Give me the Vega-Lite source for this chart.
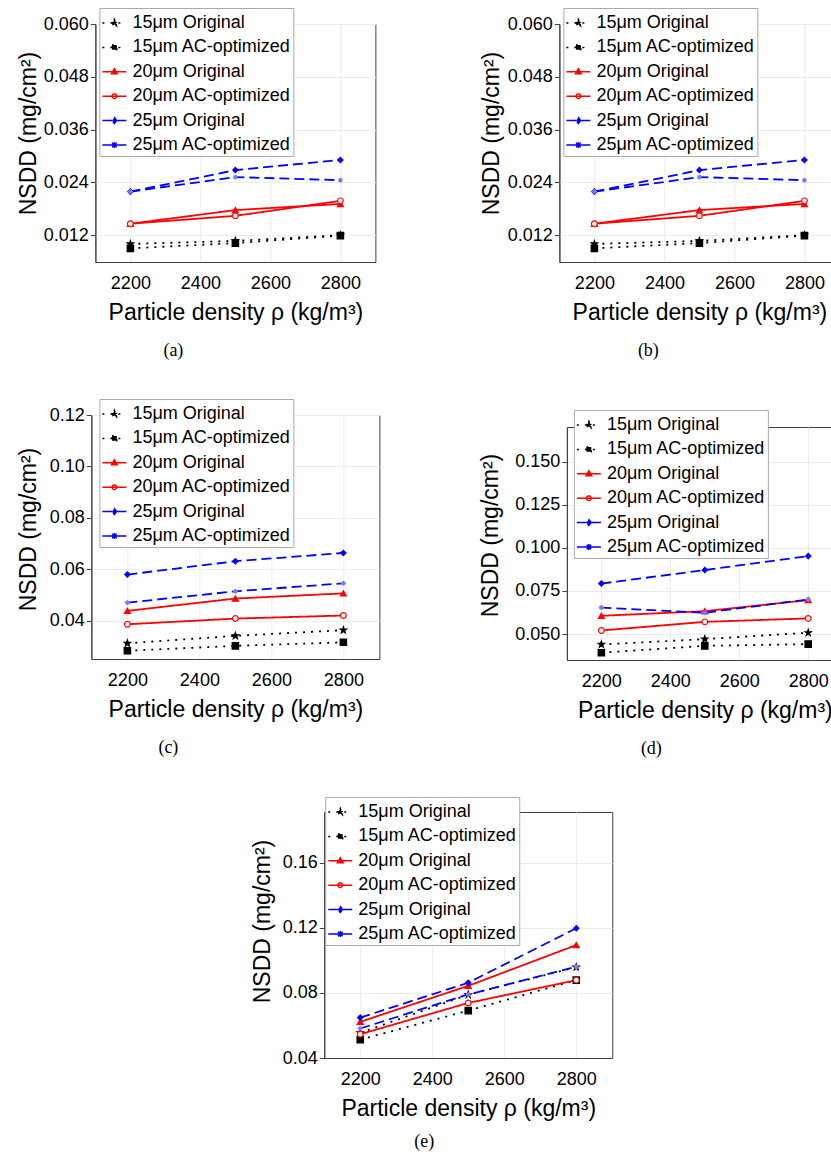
{
  "$schema": "https://vega.github.io/schema/vega-lite/v6.json",
  "background": "white",
  "padding": {"left": 16, "top": 7, "right": 0, "bottom": 0},
  "data": {"values": [
    {"panel": "a", "series": "15μm Original", "rho": 2200, "nsdd": 0.0100},
    {"panel": "a", "series": "15μm Original", "rho": 2500, "nsdd": 0.0107},
    {"panel": "a", "series": "15μm Original", "rho": 2800, "nsdd": 0.0120},
    {"panel": "a", "series": "15μm AC-optimized", "rho": 2200, "nsdd": 0.0090},
    {"panel": "a", "series": "15μm AC-optimized", "rho": 2500, "nsdd": 0.0102},
    {"panel": "a", "series": "15μm AC-optimized", "rho": 2800, "nsdd": 0.0119},
    {"panel": "a", "series": "20μm Original", "rho": 2200, "nsdd": 0.0146},
    {"panel": "a", "series": "20μm Original", "rho": 2500, "nsdd": 0.0177},
    {"panel": "a", "series": "20μm Original", "rho": 2800, "nsdd": 0.0191},
    {"panel": "a", "series": "20μm AC-optimized", "rho": 2200, "nsdd": 0.0146},
    {"panel": "a", "series": "20μm AC-optimized", "rho": 2500, "nsdd": 0.0164},
    {"panel": "a", "series": "20μm AC-optimized", "rho": 2800, "nsdd": 0.0198},
    {"panel": "a", "series": "25μm Original", "rho": 2200, "nsdd": 0.0219},
    {"panel": "a", "series": "25μm Original", "rho": 2500, "nsdd": 0.0268},
    {"panel": "a", "series": "25μm Original", "rho": 2800, "nsdd": 0.0291},
    {"panel": "a", "series": "25μm AC-optimized", "rho": 2200, "nsdd": 0.0219},
    {"panel": "a", "series": "25μm AC-optimized", "rho": 2500, "nsdd": 0.0252},
    {"panel": "a", "series": "25μm AC-optimized", "rho": 2800, "nsdd": 0.0245},
    {"panel": "b", "series": "15μm Original", "rho": 2200, "nsdd": 0.0100},
    {"panel": "b", "series": "15μm Original", "rho": 2500, "nsdd": 0.0107},
    {"panel": "b", "series": "15μm Original", "rho": 2800, "nsdd": 0.0120},
    {"panel": "b", "series": "15μm AC-optimized", "rho": 2200, "nsdd": 0.0090},
    {"panel": "b", "series": "15μm AC-optimized", "rho": 2500, "nsdd": 0.0102},
    {"panel": "b", "series": "15μm AC-optimized", "rho": 2800, "nsdd": 0.0119},
    {"panel": "b", "series": "20μm Original", "rho": 2200, "nsdd": 0.0146},
    {"panel": "b", "series": "20μm Original", "rho": 2500, "nsdd": 0.0177},
    {"panel": "b", "series": "20μm Original", "rho": 2800, "nsdd": 0.0191},
    {"panel": "b", "series": "20μm AC-optimized", "rho": 2200, "nsdd": 0.0146},
    {"panel": "b", "series": "20μm AC-optimized", "rho": 2500, "nsdd": 0.0164},
    {"panel": "b", "series": "20μm AC-optimized", "rho": 2800, "nsdd": 0.0198},
    {"panel": "b", "series": "25μm Original", "rho": 2200, "nsdd": 0.0219},
    {"panel": "b", "series": "25μm Original", "rho": 2500, "nsdd": 0.0268},
    {"panel": "b", "series": "25μm Original", "rho": 2800, "nsdd": 0.0291},
    {"panel": "b", "series": "25μm AC-optimized", "rho": 2200, "nsdd": 0.0219},
    {"panel": "b", "series": "25μm AC-optimized", "rho": 2500, "nsdd": 0.0252},
    {"panel": "b", "series": "25μm AC-optimized", "rho": 2800, "nsdd": 0.0245},
    {"panel": "c", "series": "15μm Original", "rho": 2200, "nsdd": 0.0313},
    {"panel": "c", "series": "15μm Original", "rho": 2500, "nsdd": 0.0342},
    {"panel": "c", "series": "15μm Original", "rho": 2800, "nsdd": 0.0364},
    {"panel": "c", "series": "15μm AC-optimized", "rho": 2200, "nsdd": 0.0284},
    {"panel": "c", "series": "15μm AC-optimized", "rho": 2500, "nsdd": 0.0303},
    {"panel": "c", "series": "15μm AC-optimized", "rho": 2800, "nsdd": 0.0317},
    {"panel": "c", "series": "20μm Original", "rho": 2200, "nsdd": 0.0439},
    {"panel": "c", "series": "20μm Original", "rho": 2500, "nsdd": 0.0487},
    {"panel": "c", "series": "20μm Original", "rho": 2800, "nsdd": 0.0507},
    {"panel": "c", "series": "20μm AC-optimized", "rho": 2200, "nsdd": 0.0387},
    {"panel": "c", "series": "20μm AC-optimized", "rho": 2500, "nsdd": 0.0409},
    {"panel": "c", "series": "20μm AC-optimized", "rho": 2800, "nsdd": 0.0421},
    {"panel": "c", "series": "25μm Original", "rho": 2200, "nsdd": 0.0580},
    {"panel": "c", "series": "25μm Original", "rho": 2500, "nsdd": 0.0632},
    {"panel": "c", "series": "25μm Original", "rho": 2800, "nsdd": 0.0664},
    {"panel": "c", "series": "25μm AC-optimized", "rho": 2200, "nsdd": 0.0471},
    {"panel": "c", "series": "25μm AC-optimized", "rho": 2500, "nsdd": 0.0515},
    {"panel": "c", "series": "25μm AC-optimized", "rho": 2800, "nsdd": 0.0546},
    {"panel": "d", "series": "15μm Original", "rho": 2200, "nsdd": 0.0440},
    {"panel": "d", "series": "15μm Original", "rho": 2500, "nsdd": 0.0471},
    {"panel": "d", "series": "15μm Original", "rho": 2800, "nsdd": 0.0508},
    {"panel": "d", "series": "15μm AC-optimized", "rho": 2200, "nsdd": 0.0392},
    {"panel": "d", "series": "15μm AC-optimized", "rho": 2500, "nsdd": 0.0432},
    {"panel": "d", "series": "15μm AC-optimized", "rho": 2800, "nsdd": 0.0442},
    {"panel": "d", "series": "20μm Original", "rho": 2200, "nsdd": 0.0606},
    {"panel": "d", "series": "20μm Original", "rho": 2500, "nsdd": 0.0633},
    {"panel": "d", "series": "20μm Original", "rho": 2800, "nsdd": 0.0697},
    {"panel": "d", "series": "20μm AC-optimized", "rho": 2200, "nsdd": 0.0521},
    {"panel": "d", "series": "20μm AC-optimized", "rho": 2500, "nsdd": 0.0571},
    {"panel": "d", "series": "20μm AC-optimized", "rho": 2800, "nsdd": 0.0591},
    {"panel": "d", "series": "25μm Original", "rho": 2200, "nsdd": 0.0793},
    {"panel": "d", "series": "25μm Original", "rho": 2500, "nsdd": 0.0871},
    {"panel": "d", "series": "25μm Original", "rho": 2800, "nsdd": 0.0952},
    {"panel": "d", "series": "25μm AC-optimized", "rho": 2200, "nsdd": 0.0654},
    {"panel": "d", "series": "25μm AC-optimized", "rho": 2500, "nsdd": 0.0624},
    {"panel": "d", "series": "25μm AC-optimized", "rho": 2800, "nsdd": 0.0701},
    {"panel": "e", "series": "15μm Original", "rho": 2200, "nsdd": 0.0555},
    {"panel": "e", "series": "15μm Original", "rho": 2500, "nsdd": 0.0788},
    {"panel": "e", "series": "15μm Original", "rho": 2800, "nsdd": 0.0958},
    {"panel": "e", "series": "15μm AC-optimized", "rho": 2200, "nsdd": 0.0513},
    {"panel": "e", "series": "15μm AC-optimized", "rho": 2500, "nsdd": 0.0691},
    {"panel": "e", "series": "15μm AC-optimized", "rho": 2800, "nsdd": 0.0878},
    {"panel": "e", "series": "20μm Original", "rho": 2200, "nsdd": 0.0622},
    {"panel": "e", "series": "20μm Original", "rho": 2500, "nsdd": 0.0843},
    {"panel": "e", "series": "20μm Original", "rho": 2800, "nsdd": 0.1093},
    {"panel": "e", "series": "20μm AC-optimized", "rho": 2200, "nsdd": 0.0546},
    {"panel": "e", "series": "20μm AC-optimized", "rho": 2500, "nsdd": 0.0738},
    {"panel": "e", "series": "20μm AC-optimized", "rho": 2800, "nsdd": 0.0878},
    {"panel": "e", "series": "25μm Original", "rho": 2200, "nsdd": 0.0648},
    {"panel": "e", "series": "25μm Original", "rho": 2500, "nsdd": 0.0862},
    {"panel": "e", "series": "25μm Original", "rho": 2800, "nsdd": 0.1196},
    {"panel": "e", "series": "25μm AC-optimized", "rho": 2200, "nsdd": 0.0581},
    {"panel": "e", "series": "25μm AC-optimized", "rho": 2500, "nsdd": 0.0790},
    {"panel": "e", "series": "25μm AC-optimized", "rho": 2800, "nsdd": 0.0960}
  ]},
  "config": {
    "font": "Liberation Sans",
    "view": {"stroke": "#404040", "strokeWidth": 1},
    "axis": {"labelFont": "Liberation Sans", "labelFontSize": 18, "labelColor": "#000000", "titleFont": "Liberation Sans", "titleFontSize": 23, "titleFontWeight": "normal", "titleColor": "#000000", "gridColor": "#ececec", "gridWidth": 1, "domainColor": "#404040", "tickColor": "#404040"},
    "axisX": {"ticks": false, "labelPadding": 12, "titlePadding": 9},
    "axisY": {"tickSize": 5, "labelPadding": 2, "titlePadding": 6},
    "legend": {"labelFont": "Liberation Sans", "labelFontSize": 18, "labelColor": "#000000", "labelLimit": 300, "labelOffset": 5, "padding": 2, "strokeColor": "#aaaaaa", "fillColor": "white", "symbolSize": 576, "rowPadding": 2.4, "symbolStrokeWidth": 1.5, "symbolOpacity": 1},
    "title": {"font": "Liberation Serif", "fontSize": 18, "fontWeight": "normal", "color": "#000000", "orient": "bottom", "anchor": "middle", "frame": "group", "offset": 18}
  },
  "resolve": {"scale": {"x": "independent", "y": "independent"}, "axis": {"x": "independent", "y": "independent"}},
  "spacing": 37,
  "center": true,
  "vconcat": [
    {
      "spacing": 99,
      "resolve": {"scale": {"x": "independent", "y": "independent"}, "axis": {"x": "independent", "y": "independent"}},
      "hconcat": [
        {
          "spacing": 37,
          "center": true,
          "resolve": {"scale": {"x": "independent", "y": "independent"}, "axis": {"x": "independent", "y": "independent"}},
          "vconcat": [
            {
              "width": 280, "height": 238,
              "transform": [{"filter": "datum.panel === 'a'"}],
              "title": {"text": "(a)", "dx": -62},
              "encoding": {
                "x": {"field": "rho", "type": "quantitative", "scale": {"domain": [2100, 2900], "nice": false, "zero": false}, "axis": {"values": [2200, 2400, 2600, 2800], "format": "d", "title": "Particle density ρ (kg/m³)"}},
                "y": {"field": "nsdd", "type": "quantitative", "scale": {"domain": [0.0059, 0.06], "nice": false, "zero": false}, "axis": {"values": [0.012, 0.024, 0.036, 0.048, 0.06], "format": ".3f", "title": "NSDD (mg/cm²)", "titlePadding": 3, "titleY": 109}}
              },
              "resolve": {"scale": {"shape": "independent", "fill": "independent", "stroke": "independent", "strokeDash": "independent", "color": "independent", "size": "independent"}},
              "layer": [
                {"mark": {"type": "line", "strokeWidth": 1.8},
                 "encoding": {
                   "color": {"field": "series", "type": "nominal", "scale": {"domain": ["15μm Original", "15μm AC-optimized", "20μm Original", "20μm AC-optimized", "25μm Original", "25μm AC-optimized"], "range": ["black", "black", "red", "red", "blue", "blue"]}, "legend": null},
                   "strokeDash": {"field": "series", "type": "nominal", "scale": {"domain": ["15μm Original", "15μm AC-optimized", "20μm Original", "20μm AC-optimized", "25μm Original", "25μm AC-optimized"], "range": [[2, 6], [2, 6], [1, 0], [1, 0], [10, 5], [10, 5]]}, "legend": null}
                 }},
                {"mark": {"type": "point", "filled": true, "opacity": 1, "strokeWidth": 1.2},
                 "encoding": {
                   "shape": {"field": "series", "type": "nominal", "scale": {"domain": ["15μm Original", "15μm AC-optimized", "20μm Original", "20μm AC-optimized", "25μm Original", "25μm AC-optimized"], "range": ["M0,-1L0.235,-0.324L0.951,-0.309L0.38,0.124L0.588,0.809L0,0.4L-0.588,0.809L-0.38,0.124L-0.951,-0.309L-0.235,-0.324Z", "square", "triangle-up", "circle", "diamond", "M-1,0H1M0,-1V1M-0.7,-0.7L0.7,0.7M-0.7,0.7L0.7,-0.7"]}, "legend": null},
                   "fill": {"field": "series", "type": "nominal", "scale": {"domain": ["15μm Original", "15μm AC-optimized", "20μm Original", "20μm AC-optimized", "25μm Original", "25μm AC-optimized"], "range": ["black", "black", "red", "white", "blue", "transparent"]}, "legend": null},
                   "stroke": {"field": "series", "type": "nominal", "scale": {"domain": ["15μm Original", "15μm AC-optimized", "20μm Original", "20μm AC-optimized", "25μm Original", "25μm AC-optimized"], "range": ["black", "black", "red", "red", "blue", "#7a7aff"]}, "legend": null},
                   "size": {"field": "series", "type": "nominal", "scale": {"domain": ["15μm Original", "15μm AC-optimized", "20μm Original", "20μm AC-optimized", "25μm Original", "25μm AC-optimized"], "range": [45, 25, 36, 28, 36, 45]}, "legend": null}
                 }},
                {"mark": {"type": "point", "filled": true, "opacity": 0},
                 "encoding": {
                   "shape": {"field": "series", "type": "nominal", "scale": {"domain": ["15μm Original", "15μm AC-optimized", "20μm Original", "20μm AC-optimized", "25μm Original", "25μm AC-optimized"], "range": ["M-1,0H1M0,-0.29L0.071,-0.097L0.276,-0.09L0.114,0.037L0.171,0.235L0,0.12L-0.171,0.235L-0.114,0.037L-0.276,-0.09L-0.071,-0.097Z", "M-1,0H1M-0.2,-0.2H0.2V0.2H-0.2Z", "M-1,0H1M0,-0.25L0.24,0.17L-0.24,0.17Z", "M-1,0H1M-0.19,0A0.19,0.19,0,1,1,0.19,0A0.19,0.19,0,1,1,-0.19,0Z", "M-1,0H1M0,-0.25L0.19,0L0,0.25L-0.19,0Z", "M-1,0H1M-0.26,0H0.26M0,-0.26V0.26M-0.19,-0.19L0.19,0.19M-0.19,0.19L0.19,-0.19"]}, "legend": {"title": null, "orient": "none", "direction": "vertical", "legendX": 4, "legendY": -16, "symbolOpacity": 1}},
                   "fill": {"field": "series", "type": "nominal", "scale": {"domain": ["15μm Original", "15μm AC-optimized", "20μm Original", "20μm AC-optimized", "25μm Original", "25μm AC-optimized"], "range": ["black", "black", "red", "white", "blue", "transparent"]}, "legend": {"title": null, "orient": "none", "direction": "vertical", "legendX": 4, "legendY": -16, "symbolOpacity": 1}},
                   "stroke": {"field": "series", "type": "nominal", "scale": {"domain": ["15μm Original", "15μm AC-optimized", "20μm Original", "20μm AC-optimized", "25μm Original", "25μm AC-optimized"], "range": ["black", "black", "red", "red", "blue", "blue"]}, "legend": {"title": null, "orient": "none", "direction": "vertical", "legendX": 4, "legendY": -16, "symbolOpacity": 1}},
                   "strokeDash": {"field": "series", "type": "nominal", "scale": {"domain": ["15μm Original", "15μm AC-optimized", "20μm Original", "20μm AC-optimized", "25μm Original", "25μm AC-optimized"], "range": [[2, 6], [2, 6], [1, 0], [1, 0], [10, 5], [10, 5]]}, "legend": {"title": null, "orient": "none", "direction": "vertical", "legendX": 4, "legendY": -16, "symbolOpacity": 1}}
                 }}
              ]
            },
            {
              "width": 288, "height": 244,
              "transform": [{"filter": "datum.panel === 'c'"}],
              "title": {"text": "(c)", "dx": -67},
              "encoding": {
                "x": {"field": "rho", "type": "quantitative", "scale": {"domain": [2100, 2900], "nice": false, "zero": false}, "axis": {"values": [2200, 2400, 2600, 2800], "format": "d", "title": "Particle density ρ (kg/m³)"}},
                "y": {"field": "nsdd", "type": "quantitative", "scale": {"domain": [0.0252, 0.12], "nice": false, "zero": false}, "axis": {"values": [0.04, 0.06, 0.08, 0.1, 0.12], "format": ".2f", "title": "NSDD (mg/cm²)", "titlePadding": 9, "titleY": 114}}
              },
              "resolve": {"scale": {"shape": "independent", "fill": "independent", "stroke": "independent", "strokeDash": "independent", "color": "independent", "size": "independent"}},
              "layer": [
                {"mark": {"type": "line", "strokeWidth": 1.8},
                 "encoding": {
                   "color": {"field": "series", "type": "nominal", "scale": {"domain": ["15μm Original", "15μm AC-optimized", "20μm Original", "20μm AC-optimized", "25μm Original", "25μm AC-optimized"], "range": ["black", "black", "red", "red", "blue", "blue"]}, "legend": null},
                   "strokeDash": {"field": "series", "type": "nominal", "scale": {"domain": ["15μm Original", "15μm AC-optimized", "20μm Original", "20μm AC-optimized", "25μm Original", "25μm AC-optimized"], "range": [[2, 6], [2, 6], [1, 0], [1, 0], [10, 5], [10, 5]]}, "legend": null}
                 }},
                {"mark": {"type": "point", "filled": true, "opacity": 1, "strokeWidth": 1.2},
                 "encoding": {
                   "shape": {"field": "series", "type": "nominal", "scale": {"domain": ["15μm Original", "15μm AC-optimized", "20μm Original", "20μm AC-optimized", "25μm Original", "25μm AC-optimized"], "range": ["M0,-1L0.235,-0.324L0.951,-0.309L0.38,0.124L0.588,0.809L0,0.4L-0.588,0.809L-0.38,0.124L-0.951,-0.309L-0.235,-0.324Z", "square", "triangle-up", "circle", "diamond", "M-1,0H1M0,-1V1M-0.7,-0.7L0.7,0.7M-0.7,0.7L0.7,-0.7"]}, "legend": null},
                   "fill": {"field": "series", "type": "nominal", "scale": {"domain": ["15μm Original", "15μm AC-optimized", "20μm Original", "20μm AC-optimized", "25μm Original", "25μm AC-optimized"], "range": ["black", "black", "red", "white", "blue", "transparent"]}, "legend": null},
                   "stroke": {"field": "series", "type": "nominal", "scale": {"domain": ["15μm Original", "15μm AC-optimized", "20μm Original", "20μm AC-optimized", "25μm Original", "25μm AC-optimized"], "range": ["black", "black", "red", "red", "blue", "#7a7aff"]}, "legend": null},
                   "size": {"field": "series", "type": "nominal", "scale": {"domain": ["15μm Original", "15μm AC-optimized", "20μm Original", "20μm AC-optimized", "25μm Original", "25μm AC-optimized"], "range": [45, 25, 36, 28, 36, 45]}, "legend": null}
                 }},
                {"mark": {"type": "point", "filled": true, "opacity": 0},
                 "encoding": {
                   "shape": {"field": "series", "type": "nominal", "scale": {"domain": ["15μm Original", "15μm AC-optimized", "20μm Original", "20μm AC-optimized", "25μm Original", "25μm AC-optimized"], "range": ["M-1,0H1M0,-0.29L0.071,-0.097L0.276,-0.09L0.114,0.037L0.171,0.235L0,0.12L-0.171,0.235L-0.114,0.037L-0.276,-0.09L-0.071,-0.097Z", "M-1,0H1M-0.2,-0.2H0.2V0.2H-0.2Z", "M-1,0H1M0,-0.25L0.24,0.17L-0.24,0.17Z", "M-1,0H1M-0.19,0A0.19,0.19,0,1,1,0.19,0A0.19,0.19,0,1,1,-0.19,0Z", "M-1,0H1M0,-0.25L0.19,0L0,0.25L-0.19,0Z", "M-1,0H1M-0.26,0H0.26M0,-0.26V0.26M-0.19,-0.19L0.19,0.19M-0.19,0.19L0.19,-0.19"]}, "legend": {"title": null, "orient": "none", "direction": "vertical", "legendX": 8, "legendY": -16, "symbolOpacity": 1}},
                   "fill": {"field": "series", "type": "nominal", "scale": {"domain": ["15μm Original", "15μm AC-optimized", "20μm Original", "20μm AC-optimized", "25μm Original", "25μm AC-optimized"], "range": ["black", "black", "red", "white", "blue", "transparent"]}, "legend": {"title": null, "orient": "none", "direction": "vertical", "legendX": 8, "legendY": -16, "symbolOpacity": 1}},
                   "stroke": {"field": "series", "type": "nominal", "scale": {"domain": ["15μm Original", "15μm AC-optimized", "20μm Original", "20μm AC-optimized", "25μm Original", "25μm AC-optimized"], "range": ["black", "black", "red", "red", "blue", "blue"]}, "legend": {"title": null, "orient": "none", "direction": "vertical", "legendX": 8, "legendY": -16, "symbolOpacity": 1}},
                   "strokeDash": {"field": "series", "type": "nominal", "scale": {"domain": ["15μm Original", "15μm AC-optimized", "20μm Original", "20μm AC-optimized", "25μm Original", "25μm AC-optimized"], "range": [[2, 6], [2, 6], [1, 0], [1, 0], [10, 5], [10, 5]]}, "legend": {"title": null, "orient": "none", "direction": "vertical", "legendX": 8, "legendY": -16, "symbolOpacity": 1}}
                 }}
              ]
            }
          ]
        },
        {
          "spacing": 48,
          "center": true,
          "resolve": {"scale": {"x": "independent", "y": "independent"}, "axis": {"x": "independent", "y": "independent"}},
          "vconcat": [
            {
              "width": 286, "height": 238,
              "transform": [{"filter": "datum.panel === 'b'"}],
              "title": {"text": "(b)", "dx": -54},
              "encoding": {
                "x": {"field": "rho", "type": "quantitative", "scale": {"domain": [2100, 2917], "nice": false, "zero": false}, "axis": {"values": [2200, 2400, 2600, 2800], "format": "d", "title": "Particle density ρ (kg/m³)", "titleX": 140}},
                "y": {"field": "nsdd", "type": "quantitative", "scale": {"domain": [0.0059, 0.06], "nice": false, "zero": false}, "axis": {"values": [0.012, 0.024, 0.036, 0.048, 0.06], "format": ".3f", "title": "NSDD (mg/cm²)", "titlePadding": 4, "titleY": 109}}
              },
              "resolve": {"scale": {"shape": "independent", "fill": "independent", "stroke": "independent", "strokeDash": "independent", "color": "independent", "size": "independent"}},
              "layer": [
                {"mark": {"type": "line", "strokeWidth": 1.8},
                 "encoding": {
                   "color": {"field": "series", "type": "nominal", "scale": {"domain": ["15μm Original", "15μm AC-optimized", "20μm Original", "20μm AC-optimized", "25μm Original", "25μm AC-optimized"], "range": ["black", "black", "red", "red", "blue", "blue"]}, "legend": null},
                   "strokeDash": {"field": "series", "type": "nominal", "scale": {"domain": ["15μm Original", "15μm AC-optimized", "20μm Original", "20μm AC-optimized", "25μm Original", "25μm AC-optimized"], "range": [[2, 6], [2, 6], [1, 0], [1, 0], [10, 5], [10, 5]]}, "legend": null}
                 }},
                {"mark": {"type": "point", "filled": true, "opacity": 1, "strokeWidth": 1.2},
                 "encoding": {
                   "shape": {"field": "series", "type": "nominal", "scale": {"domain": ["15μm Original", "15μm AC-optimized", "20μm Original", "20μm AC-optimized", "25μm Original", "25μm AC-optimized"], "range": ["M0,-1L0.235,-0.324L0.951,-0.309L0.38,0.124L0.588,0.809L0,0.4L-0.588,0.809L-0.38,0.124L-0.951,-0.309L-0.235,-0.324Z", "square", "triangle-up", "circle", "diamond", "M-1,0H1M0,-1V1M-0.7,-0.7L0.7,0.7M-0.7,0.7L0.7,-0.7"]}, "legend": null},
                   "fill": {"field": "series", "type": "nominal", "scale": {"domain": ["15μm Original", "15μm AC-optimized", "20μm Original", "20μm AC-optimized", "25μm Original", "25μm AC-optimized"], "range": ["black", "black", "red", "white", "blue", "transparent"]}, "legend": null},
                   "stroke": {"field": "series", "type": "nominal", "scale": {"domain": ["15μm Original", "15μm AC-optimized", "20μm Original", "20μm AC-optimized", "25μm Original", "25μm AC-optimized"], "range": ["black", "black", "red", "red", "blue", "#7a7aff"]}, "legend": null},
                   "size": {"field": "series", "type": "nominal", "scale": {"domain": ["15μm Original", "15μm AC-optimized", "20μm Original", "20μm AC-optimized", "25μm Original", "25μm AC-optimized"], "range": [45, 25, 36, 28, 36, 45]}, "legend": null}
                 }},
                {"mark": {"type": "point", "filled": true, "opacity": 0},
                 "encoding": {
                   "shape": {"field": "series", "type": "nominal", "scale": {"domain": ["15μm Original", "15μm AC-optimized", "20μm Original", "20μm AC-optimized", "25μm Original", "25μm AC-optimized"], "range": ["M-1,0H1M0,-0.29L0.071,-0.097L0.276,-0.09L0.114,0.037L0.171,0.235L0,0.12L-0.171,0.235L-0.114,0.037L-0.276,-0.09L-0.071,-0.097Z", "M-1,0H1M-0.2,-0.2H0.2V0.2H-0.2Z", "M-1,0H1M0,-0.25L0.24,0.17L-0.24,0.17Z", "M-1,0H1M-0.19,0A0.19,0.19,0,1,1,0.19,0A0.19,0.19,0,1,1,-0.19,0Z", "M-1,0H1M0,-0.25L0.19,0L0,0.25L-0.19,0Z", "M-1,0H1M-0.26,0H0.26M0,-0.26V0.26M-0.19,-0.19L0.19,0.19M-0.19,0.19L0.19,-0.19"]}, "legend": {"title": null, "orient": "none", "direction": "vertical", "legendX": 4, "legendY": -16, "symbolOpacity": 1}},
                   "fill": {"field": "series", "type": "nominal", "scale": {"domain": ["15μm Original", "15μm AC-optimized", "20μm Original", "20μm AC-optimized", "25μm Original", "25μm AC-optimized"], "range": ["black", "black", "red", "white", "blue", "transparent"]}, "legend": {"title": null, "orient": "none", "direction": "vertical", "legendX": 4, "legendY": -16, "symbolOpacity": 1}},
                   "stroke": {"field": "series", "type": "nominal", "scale": {"domain": ["15μm Original", "15μm AC-optimized", "20μm Original", "20μm AC-optimized", "25μm Original", "25μm AC-optimized"], "range": ["black", "black", "red", "red", "blue", "blue"]}, "legend": {"title": null, "orient": "none", "direction": "vertical", "legendX": 4, "legendY": -16, "symbolOpacity": 1}},
                   "strokeDash": {"field": "series", "type": "nominal", "scale": {"domain": ["15μm Original", "15μm AC-optimized", "20μm Original", "20μm AC-optimized", "25μm Original", "25μm AC-optimized"], "range": [[2, 6], [2, 6], [1, 0], [1, 0], [10, 5], [10, 5]]}, "legend": {"title": null, "orient": "none", "direction": "vertical", "legendX": 4, "legendY": -16, "symbolOpacity": 1}}
                 }}
              ]
            },
            {
              "width": 271, "height": 233,
              "transform": [{"filter": "datum.panel === 'd'"}],
              "title": {"text": "(d)", "dx": -51},
              "encoding": {
                "x": {"field": "rho", "type": "quantitative", "scale": {"domain": [2100, 2886], "nice": false, "zero": false}, "axis": {"values": [2200, 2400, 2600, 2800], "format": "d", "title": "Particle density ρ (kg/m³)", "titleX": 138}},
                "y": {"field": "nsdd", "type": "quantitative", "scale": {"domain": [0.035, 0.17], "nice": false, "zero": false}, "axis": {"values": [0.05, 0.075, 0.1, 0.125, 0.15], "format": ".3f", "title": "NSDD (mg/cm²)", "titlePadding": 12, "titleY": 108}}
              },
              "resolve": {"scale": {"shape": "independent", "fill": "independent", "stroke": "independent", "strokeDash": "independent", "color": "independent", "size": "independent"}},
              "layer": [
                {"mark": {"type": "line", "strokeWidth": 1.8},
                 "encoding": {
                   "color": {"field": "series", "type": "nominal", "scale": {"domain": ["15μm Original", "15μm AC-optimized", "20μm Original", "20μm AC-optimized", "25μm Original", "25μm AC-optimized"], "range": ["black", "black", "red", "red", "blue", "blue"]}, "legend": null},
                   "strokeDash": {"field": "series", "type": "nominal", "scale": {"domain": ["15μm Original", "15μm AC-optimized", "20μm Original", "20μm AC-optimized", "25μm Original", "25μm AC-optimized"], "range": [[2, 6], [2, 6], [1, 0], [1, 0], [10, 5], [10, 5]]}, "legend": null}
                 }},
                {"mark": {"type": "point", "filled": true, "opacity": 1, "strokeWidth": 1.2},
                 "encoding": {
                   "shape": {"field": "series", "type": "nominal", "scale": {"domain": ["15μm Original", "15μm AC-optimized", "20μm Original", "20μm AC-optimized", "25μm Original", "25μm AC-optimized"], "range": ["M0,-1L0.235,-0.324L0.951,-0.309L0.38,0.124L0.588,0.809L0,0.4L-0.588,0.809L-0.38,0.124L-0.951,-0.309L-0.235,-0.324Z", "square", "triangle-up", "circle", "diamond", "M-1,0H1M0,-1V1M-0.7,-0.7L0.7,0.7M-0.7,0.7L0.7,-0.7"]}, "legend": null},
                   "fill": {"field": "series", "type": "nominal", "scale": {"domain": ["15μm Original", "15μm AC-optimized", "20μm Original", "20μm AC-optimized", "25μm Original", "25μm AC-optimized"], "range": ["black", "black", "red", "white", "blue", "transparent"]}, "legend": null},
                   "stroke": {"field": "series", "type": "nominal", "scale": {"domain": ["15μm Original", "15μm AC-optimized", "20μm Original", "20μm AC-optimized", "25μm Original", "25μm AC-optimized"], "range": ["black", "black", "red", "red", "blue", "#7a7aff"]}, "legend": null},
                   "size": {"field": "series", "type": "nominal", "scale": {"domain": ["15μm Original", "15μm AC-optimized", "20μm Original", "20μm AC-optimized", "25μm Original", "25μm AC-optimized"], "range": [45, 25, 36, 28, 36, 45]}, "legend": null}
                 }},
                {"mark": {"type": "point", "filled": true, "opacity": 0},
                 "encoding": {
                   "shape": {"field": "series", "type": "nominal", "scale": {"domain": ["15μm Original", "15μm AC-optimized", "20μm Original", "20μm AC-optimized", "25μm Original", "25μm AC-optimized"], "range": ["M-1,0H1M0,-0.29L0.071,-0.097L0.276,-0.09L0.114,0.037L0.171,0.235L0,0.12L-0.171,0.235L-0.114,0.037L-0.276,-0.09L-0.071,-0.097Z", "M-1,0H1M-0.2,-0.2H0.2V0.2H-0.2Z", "M-1,0H1M0,-0.25L0.24,0.17L-0.24,0.17Z", "M-1,0H1M-0.19,0A0.19,0.19,0,1,1,0.19,0A0.19,0.19,0,1,1,-0.19,0Z", "M-1,0H1M0,-0.25L0.19,0L0,0.25L-0.19,0Z", "M-1,0H1M-0.26,0H0.26M0,-0.26V0.26M-0.19,-0.19L0.19,0.19M-0.19,0.19L0.19,-0.19"]}, "legend": {"title": null, "orient": "none", "direction": "vertical", "legendX": 7, "legendY": -17, "symbolOpacity": 1}},
                   "fill": {"field": "series", "type": "nominal", "scale": {"domain": ["15μm Original", "15μm AC-optimized", "20μm Original", "20μm AC-optimized", "25μm Original", "25μm AC-optimized"], "range": ["black", "black", "red", "white", "blue", "transparent"]}, "legend": {"title": null, "orient": "none", "direction": "vertical", "legendX": 7, "legendY": -17, "symbolOpacity": 1}},
                   "stroke": {"field": "series", "type": "nominal", "scale": {"domain": ["15μm Original", "15μm AC-optimized", "20μm Original", "20μm AC-optimized", "25μm Original", "25μm AC-optimized"], "range": ["black", "black", "red", "red", "blue", "blue"]}, "legend": {"title": null, "orient": "none", "direction": "vertical", "legendX": 7, "legendY": -17, "symbolOpacity": 1}},
                   "strokeDash": {"field": "series", "type": "nominal", "scale": {"domain": ["15μm Original", "15μm AC-optimized", "20μm Original", "20μm AC-optimized", "25μm Original", "25μm AC-optimized"], "range": [[2, 6], [2, 6], [1, 0], [1, 0], [10, 5], [10, 5]]}, "legend": {"title": null, "orient": "none", "direction": "vertical", "legendX": 7, "legendY": -17, "symbolOpacity": 1}}
                 }}
              ]
            }
          ]
        }
      ]
    },
    {
      "width": 288, "height": 246,
      "transform": [{"filter": "datum.panel === 'e'"}],
      "title": {"text": "(e)", "dx": -44, "offset": 13},
      "encoding": {
        "x": {"field": "rho", "type": "quantitative", "scale": {"domain": [2100, 2900], "nice": false, "zero": false}, "axis": {"values": [2200, 2400, 2600, 2800], "format": "d", "title": "Particle density ρ (kg/m³)"}},
        "y": {"field": "nsdd", "type": "quantitative", "scale": {"domain": [0.04, 0.191], "nice": false, "zero": false}, "axis": {"values": [0.04, 0.08, 0.12, 0.16], "format": ".2f", "title": "NSDD (mg/cm²)", "titlePadding": 8, "titleY": 109}}
      },
      "resolve": {"scale": {"shape": "independent", "fill": "independent", "stroke": "independent", "strokeDash": "independent", "color": "independent", "size": "independent"}},
      "layer": [
        {"mark": {"type": "line", "strokeWidth": 1.8},
         "encoding": {
           "color": {"field": "series", "type": "nominal", "scale": {"domain": ["15μm Original", "15μm AC-optimized", "20μm Original", "20μm AC-optimized", "25μm Original", "25μm AC-optimized"], "range": ["black", "black", "red", "red", "blue", "blue"]}, "legend": null},
           "strokeDash": {"field": "series", "type": "nominal", "scale": {"domain": ["15μm Original", "15μm AC-optimized", "20μm Original", "20μm AC-optimized", "25μm Original", "25μm AC-optimized"], "range": [[2, 6], [2, 6], [1, 0], [1, 0], [10, 5], [10, 5]]}, "legend": null}
         }},
        {"mark": {"type": "point", "filled": true, "opacity": 1, "strokeWidth": 1.2},
         "encoding": {
           "shape": {"field": "series", "type": "nominal", "scale": {"domain": ["15μm Original", "15μm AC-optimized", "20μm Original", "20μm AC-optimized", "25μm Original", "25μm AC-optimized"], "range": ["M0,-1L0.235,-0.324L0.951,-0.309L0.38,0.124L0.588,0.809L0,0.4L-0.588,0.809L-0.38,0.124L-0.951,-0.309L-0.235,-0.324Z", "square", "triangle-up", "circle", "diamond", "M-1,0H1M0,-1V1M-0.7,-0.7L0.7,0.7M-0.7,0.7L0.7,-0.7"]}, "legend": null},
           "fill": {"field": "series", "type": "nominal", "scale": {"domain": ["15μm Original", "15μm AC-optimized", "20μm Original", "20μm AC-optimized", "25μm Original", "25μm AC-optimized"], "range": ["black", "black", "red", "white", "blue", "transparent"]}, "legend": null},
           "stroke": {"field": "series", "type": "nominal", "scale": {"domain": ["15μm Original", "15μm AC-optimized", "20μm Original", "20μm AC-optimized", "25μm Original", "25μm AC-optimized"], "range": ["black", "black", "red", "red", "blue", "#7a7aff"]}, "legend": null},
           "size": {"field": "series", "type": "nominal", "scale": {"domain": ["15μm Original", "15μm AC-optimized", "20μm Original", "20μm AC-optimized", "25μm Original", "25μm AC-optimized"], "range": [45, 25, 36, 28, 36, 45]}, "legend": null}
         }},
        {"mark": {"type": "point", "filled": true, "opacity": 0},
         "encoding": {
           "shape": {"field": "series", "type": "nominal", "scale": {"domain": ["15μm Original", "15μm AC-optimized", "20μm Original", "20μm AC-optimized", "25μm Original", "25μm AC-optimized"], "range": ["M-1,0H1M0,-0.29L0.071,-0.097L0.276,-0.09L0.114,0.037L0.171,0.235L0,0.12L-0.171,0.235L-0.114,0.037L-0.276,-0.09L-0.071,-0.097Z", "M-1,0H1M-0.2,-0.2H0.2V0.2H-0.2Z", "M-1,0H1M0,-0.25L0.24,0.17L-0.24,0.17Z", "M-1,0H1M-0.19,0A0.19,0.19,0,1,1,0.19,0A0.19,0.19,0,1,1,-0.19,0Z", "M-1,0H1M0,-0.25L0.19,0L0,0.25L-0.19,0Z", "M-1,0H1M-0.26,0H0.26M0,-0.26V0.26M-0.19,-0.19L0.19,0.19M-0.19,0.19L0.19,-0.19"]}, "legend": {"title": null, "orient": "none", "direction": "vertical", "legendX": 1, "legendY": -15, "symbolOpacity": 1}},
           "fill": {"field": "series", "type": "nominal", "scale": {"domain": ["15μm Original", "15μm AC-optimized", "20μm Original", "20μm AC-optimized", "25μm Original", "25μm AC-optimized"], "range": ["black", "black", "red", "white", "blue", "transparent"]}, "legend": {"title": null, "orient": "none", "direction": "vertical", "legendX": 1, "legendY": -15, "symbolOpacity": 1}},
           "stroke": {"field": "series", "type": "nominal", "scale": {"domain": ["15μm Original", "15μm AC-optimized", "20μm Original", "20μm AC-optimized", "25μm Original", "25μm AC-optimized"], "range": ["black", "black", "red", "red", "blue", "blue"]}, "legend": {"title": null, "orient": "none", "direction": "vertical", "legendX": 1, "legendY": -15, "symbolOpacity": 1}},
           "strokeDash": {"field": "series", "type": "nominal", "scale": {"domain": ["15μm Original", "15μm AC-optimized", "20μm Original", "20μm AC-optimized", "25μm Original", "25μm AC-optimized"], "range": [[2, 6], [2, 6], [1, 0], [1, 0], [10, 5], [10, 5]]}, "legend": {"title": null, "orient": "none", "direction": "vertical", "legendX": 1, "legendY": -15, "symbolOpacity": 1}}
         }}
      ]
    }
  ]
}
